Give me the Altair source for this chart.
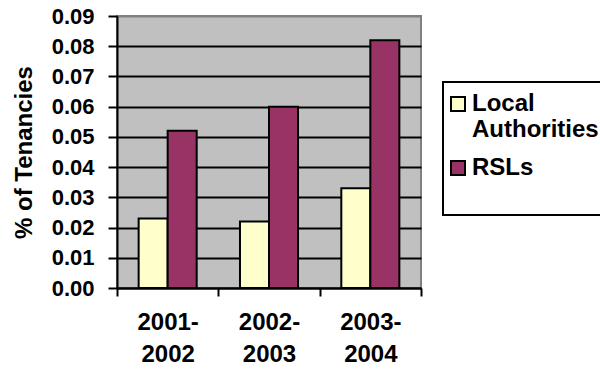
import altair as alt
import pandas as pd

# Share of tenancies by landlord type and year
periods = ["2001-2002", "2002-2003", "2003-2004"]
local_authorities = [0.023, 0.022, 0.033]
rsls = [0.052, 0.060, 0.082]
series = ["Local Authorities", "RSLs"]
series_colors = ["#FFFFCC", "#993366"]
y_ticks = [0.00, 0.01, 0.02, 0.03, 0.04, 0.05, 0.06, 0.07, 0.08, 0.09]

rows = []
for p, la, r in zip(periods, local_authorities, rsls):
    rows.append({"period": p, "series": series[0], "value": la})
    rows.append({"period": p, "series": series[1], "value": r})
df = pd.DataFrame(rows)

W, H = 304, 272
FONT = "Liberation Sans"

bars = alt.Chart(df).mark_bar(stroke="black", strokeWidth=2).encode(
    x=alt.X(
        "period:N",
        sort=periods,
        scale=alt.Scale(paddingInner=0, paddingOuter=0),
        axis=alt.Axis(
            title=None,
            labelExpr="[slice(datum.label, 0, 5), slice(datum.label, 5)]",
            labelFont=FONT,
            labelFontSize=24,
            labelFontWeight="bold",
            labelColor="black",
            labelAngle=0,
            labelLineHeight=32,
            labelPadding=14,
            labelBaseline="top",
            tickBand="extent",
            tickSize=8,
            tickWidth=2,
            tickColor="black",
            domainColor="black",
            domainWidth=2,
            grid=False,
        ),
    ),
    xOffset=alt.XOffset(
        "series:N",
        sort=series,
        scale=alt.Scale(paddingInner=0, paddingOuter=0.746),
    ),
    y=alt.Y(
        "value:Q",
        scale=alt.Scale(domain=[0, 0.09], nice=False, zero=True),
        axis=alt.Axis(
            title="% of Tenancies",
            titleFont=FONT,
            titleFontSize=24,
            titleFontWeight="bold",
            titleColor="black",
            titleAngle=270,
            titleAlign="center",
            titleBaseline="alphabetic",
            titleX=-86,
            titleY=H / 2,
            values=y_ticks,
            format=".2f",
            labelFont=FONT,
            labelFontSize=22,
            labelFontWeight="bold",
            labelColor="black",
            labelPadding=14,
            tickSize=9,
            tickWidth=2,
            tickColor="black",
            domainColor="black",
            domainWidth=2,
            grid=True,
            gridColor=alt.condition("datum.value >= 0.09", alt.value("#808080"), alt.value("black")),
            gridWidth=2,
        ),
    ),
    color=alt.Color(
        "series:N",
        sort=series,
        scale=alt.Scale(domain=series, range=series_colors),
        legend=alt.Legend(
            title=None,
            orient="none",
            legendX=329,
            legendY=76,
            symbolType="square",
            symbolSize=196,
            symbolStrokeColor="black",
            symbolStrokeWidth=2,
            symbolOpacity=1,
            labelFont=FONT,
            labelFontSize=24,
            labelFontWeight="bold",
            labelColor="black",
            labelLimit=300,
            labelOffset=2,
            rowPadding=14,
            labelExpr="datum.label == 'Local Authorities' ? ['Local', 'Authorities'] : datum.label",
        ),
    ),
)

# frame around the legend
legend_frame = alt.Chart(pd.DataFrame({"frame": [0]})).mark_rect(
    fill="white", stroke="black", strokeWidth=2
).encode(
    x=alt.value(326), x2=alt.value(520), y=alt.value(66), y2=alt.value(199)
)

chart = alt.layer(legend_frame, bars).properties(
    width=W,
    height=H,
    autosize=alt.AutoSizeParams(type="none"),
    padding={"left": 117, "top": 16, "right": 600 - 117 - W, "bottom": 374 - 16 - H},
    background="white",
).configure_view(
    fill="#C0C0C0", stroke="#808080", strokeWidth=2
)

chart.save("out.html", embed_options={"renderer": "svg", "actions": False})
